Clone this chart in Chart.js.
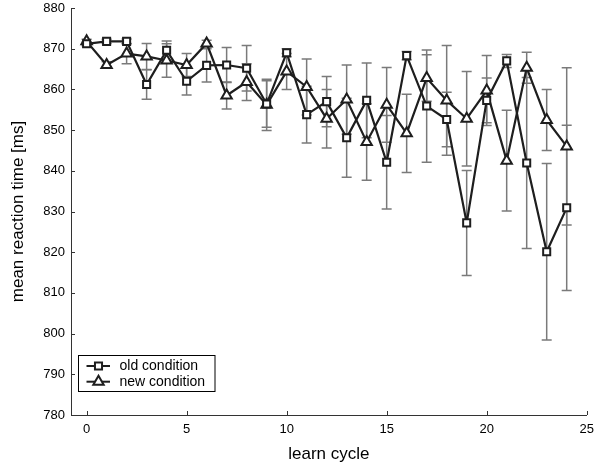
<!DOCTYPE html>
<html>
<head>
<meta charset="utf-8">
<script src="https://cdn.jsdelivr.net/npm/chart.js@4.4.1/dist/chart.umd.min.js"></script>
<style>
  html, body { margin: 0; padding: 0; background: #fff; }
  #wrap { width: 611px; height: 470px; }
</style>
</head>
<body>
<div id="wrap"><canvas id="c" width="611" height="470"></canvas></div>
<script>
const cycles = [0,1,2,3,4,5,6,7,8,9,10,11,12,13,14,15,16,17,18,19,20,21,22,23,24];
const oldMean = [871.2, 871.8, 871.8, 861.2, 869.6, 862.0, 865.9, 866.0, 865.2, 856.4, 869.0, 853.8, 857.0, 848.1, 857.3, 842.1, 868.3, 855.9, 852.6, 827.2, 857.3, 867.0, 841.9, 820.1, 830.9];
const oldErr  = [0.5, 0.5, 0.6, 3.6, 2.3, 3.4, 4.1, 4.3, 5.6, 5.7, 1.0, 7.0, 6.2, 9.7, 9.2, 11.5, 1.0, 13.8, 6.7, 12.9, 5.5, 1.6, 21.0, 21.7, 20.3];
const newMean = [871.8, 866.0, 868.8, 868.1, 867.1, 866.0, 871.3, 858.5, 861.8, 856.2, 864.4, 860.6, 852.8, 857.5, 847.1, 856.2, 849.2, 862.8, 857.3, 852.8, 859.7, 842.5, 865.3, 852.5, 846.0];
const newErr  = [0.5, 0.8, 2.5, 3.2, 4.1, 2.8, 0.8, 3.3, 4.5, 6.3, 4.4, 6.9, 7.2, 8.5, 9.4, 9.2, 9.6, 5.7, 13.5, 11.6, 8.6, 12.4, 3.8, 7.5, 19.3];
const seriesLabels = ['old condition', 'new condition'];
const xTicks = [0, 5, 10, 15, 20, 25];
const yTicks = [780, 790, 800, 810, 820, 830, 840, 850, 860, 870, 880];

const FONT = '"Liberation Sans", Arial, Helvetica, sans-serif';
const LINE = '#1e1e1e';
const ERR = '#7a7a7a';

function pts(means) { return cycles.map((c, i) => ({x: c, y: means[i]})); }

const errorBars = {
  id: 'errorBars',
  beforeDatasetsDraw(chart) {
    const ctx = chart.ctx, xs = chart.scales.x, ys = chart.scales.y;
    ctx.save();
    ctx.strokeStyle = ERR;
    ctx.lineWidth = 1.5;
    chart.data.datasets.forEach(ds => {
      ds.errors.forEach((e, i) => {
        const px = xs.getPixelForValue(cycles[i]);
        const y1 = ys.getPixelForValue(ds.data[i].y + e);
        const y2 = ys.getPixelForValue(ds.data[i].y - e);
        ctx.beginPath();
        ctx.moveTo(px, y1); ctx.lineTo(px, y2);
        ctx.moveTo(px - 5, y1); ctx.lineTo(px + 5, y1);
        ctx.moveTo(px - 5, y2); ctx.lineTo(px + 5, y2);
        ctx.stroke();
      });
    });
    ctx.restore();
  }
};

const innerTicks = {
  id: 'innerTicks',
  afterDraw(chart) {
    const ctx = chart.ctx, xs = chart.scales.x, ys = chart.scales.y, a = chart.chartArea;
    ctx.save();
    ctx.strokeStyle = '#333';
    ctx.lineWidth = 1;
    ctx.beginPath();
    ys.ticks.forEach(t => {
      const y = Math.round(ys.getPixelForValue(t.value)) + 0.5;
      ctx.moveTo(a.left, y); ctx.lineTo(a.left + 4, y);
    });
    xs.ticks.forEach(t => {
      const x = Math.round(xs.getPixelForValue(t.value)) + 0.5;
      ctx.moveTo(x, a.bottom); ctx.lineTo(x, a.bottom - 4);
    });
    ctx.stroke();
    ctx.restore();
  }
};

const boxLegend = {
  id: 'boxLegend',
  afterDraw(chart) {
    const ctx = chart.ctx, a = chart.chartArea;
    const bx = a.left + 7.5, by = a.bottom - 59.5, bw = 136.5, bh = 36;
    ctx.save();
    ctx.fillStyle = '#fff';
    ctx.fillRect(bx, by, bw, bh);
    ctx.strokeStyle = '#000';
    ctx.lineWidth = 1;
    ctx.strokeRect(bx, by, bw, bh);
    chart.data.datasets.forEach((ds, i) => {
      const y = by + 10.5 + i * 15.7;
      ctx.strokeStyle = LINE;
      ctx.lineWidth = 2;
      ctx.beginPath();
      ctx.moveTo(bx + 8, y); ctx.lineTo(bx + 31.5, y);
      ctx.stroke();
      ctx.fillStyle = '#fff';
      ctx.strokeStyle = LINE;
      Chart.helpers.drawPoint(ctx, {pointStyle: ds.pointStyle, radius: ds.pointRadius, borderWidth: 2, rotation: 0}, bx + 20, y);
      ctx.fillStyle = '#000';
      ctx.font = '14px ' + FONT;
      ctx.textBaseline = 'middle';
      ctx.textAlign = 'left';
      ctx.fillText(ds.label, bx + 41, y);
    });
    ctx.restore();
  }
};

new Chart(document.getElementById('c'), {
  type: 'line',
  data: {
    datasets: [
      {
        label: seriesLabels[0], data: pts(oldMean), errors: oldErr,
        borderColor: LINE, borderWidth: 2.2, tension: 0,
        pointStyle: 'rect', pointRadius: 5, pointBorderWidth: 2,
        pointBackgroundColor: '#fff', pointBorderColor: LINE
      },
      {
        label: seriesLabels[1], data: pts(newMean), errors: newErr,
        borderColor: LINE, borderWidth: 2.2, tension: 0,
        pointStyle: 'triangle', pointRadius: 6, pointBorderWidth: 2,
        pointBackgroundColor: '#fff', pointBorderColor: LINE
      }
    ]
  },
  options: {
    responsive: false,
    animation: false,
    devicePixelRatio: 1,
    layout: { padding: { left: 0, right: 24.3, top: 7.3, bottom: 0 } },
    plugins: { legend: { display: false }, tooltip: { enabled: false } },
    scales: {
      x: {
        type: 'linear', min: -0.78, max: 25,
        afterBuildTicks: s => { s.ticks = xTicks.map(v => ({value: v})); },
        afterFit: s => { s.height = 55; s.paddingLeft = 0; s.paddingRight = 0; },
        grid: { display: true, drawOnChartArea: false, drawTicks: false },
        border: { display: true, color: '#333', width: 1 },
        ticks: { color: '#000', font: { family: FONT, size: 13 }, padding: 7, maxRotation: 0 },
        title: { display: true, text: 'learn cycle', color: '#000', font: { family: FONT, size: 17 }, padding: { top: 0, bottom: 5 } }
      },
      y: {
        type: 'linear', min: 780, max: 880,
        afterBuildTicks: s => { s.ticks = yTicks.map(v => ({value: v})); },
        afterFit: s => { s.width = 71; s.paddingTop = 0; s.paddingBottom = 0; },
        grid: { display: true, drawOnChartArea: false, drawTicks: false },
        border: { display: true, color: '#333', width: 1 },
        ticks: { color: '#000', font: { family: FONT, size: 13 }, padding: 6 },
        title: { display: true, text: 'mean reaction time [ms]', color: '#000', font: { family: FONT, size: 17 }, padding: { top: 8, bottom: 0 } }
      }
    }
  },
  plugins: [errorBars, innerTicks, boxLegend]
});
</script>
</body>
</html>
